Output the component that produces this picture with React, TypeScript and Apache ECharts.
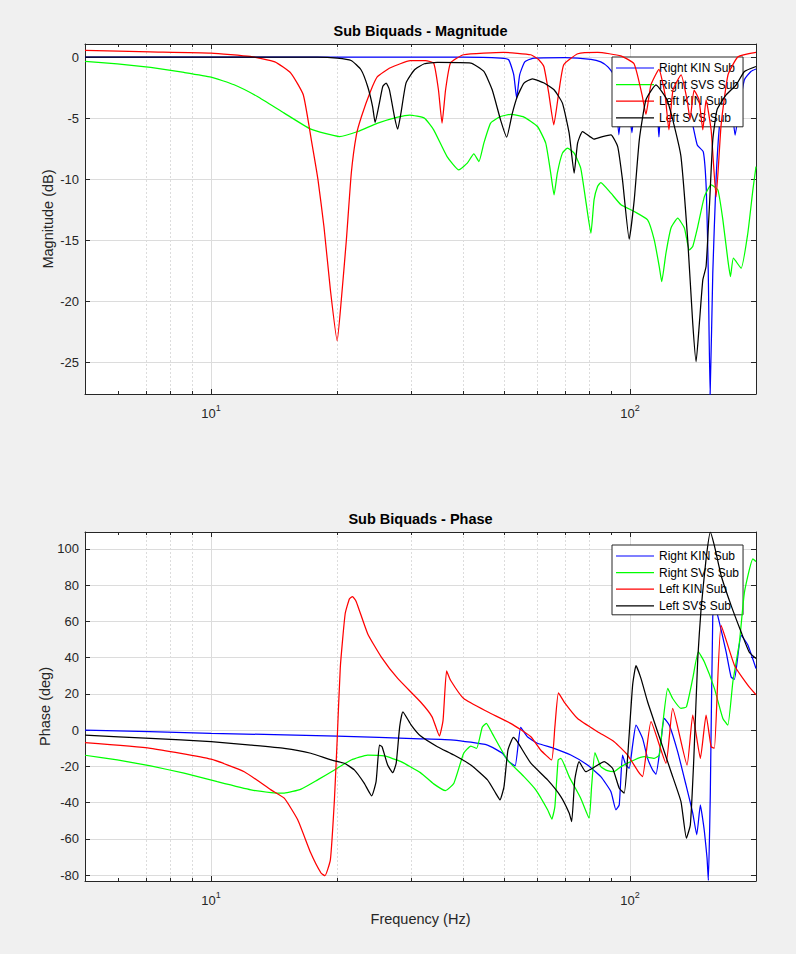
import React, { useEffect, useRef } from 'react';
import * as echarts from 'echarts';

// ---------- data (frequency in Hz, value) ----------
const seriesNames = ['Right KIN Sub', 'Right SVS Sub', 'Left KIN Sub', 'Left SVS Sub'];
const seriesColors = ['#0000FF', '#00FF00', '#FF0000', '#000000'];
const freqRange = [5, 200];
const magRange = [-27.6, 1.07];
const phaseRange = [-83.3, 109.3];
const magStep = 5;
const phaseStep = 20;
const majorFreqTicks = [10, 100];
const minorFreqTicks = [6, 7, 8, 9, 20, 30, 40, 50, 60, 70, 80, 90];

const magRightKin: [number, number][] = [
  [5, 0], [40, 0], [49.1, -0.08], [51.35, -0.22], [52.8, -1.45], [53.65, -3.36], [54.55, -1.45],
  [56.1, -0.39], [58.6, -0.1], [70, -0.05], [80.7, -0.18], [85.2, -0.39], [88.6, -0.8], [91.1, -1.37],
  [92.6, -3.5], [94.1, -6.37], [95.7, -3.9], [97.8, -3.1], [99.4, -3.9], [101.1, -6.2], [102.8, -3.9],
  [107.4, -3.1], [115.4, -3.5], [117.3, -6.54], [119.3, -3.5], [128.8, -3.5], [140, -5.1], [144.8, -7.2],
  [149.7, -7.76], [152.2, -10.9], [153.8, -17.4], [155.4, -27.7], [157.7, -17.7], [160.6, -10.0],
  [163.6, -5.6], [166.8, -3.5], [174.5, -3.9], [178.3, -6.4], [182.2, -4.3], [187.6, -1.86],
  [194.5, -1.18], [200, -0.98],
];
const magRightSvs: [number, number][] = [
  [5, -0.36], [5.97, -0.55], [7.17, -0.85], [8.62, -1.26], [10, -1.64], [11.35, -2.27], [12.9, -3.23],
  [14.95, -4.59], [17.3, -5.9], [20.25, -6.51], [22.4, -6.1], [25, -5.41], [27.9, -4.92], [29.8, -4.75],
  [32.3, -5.0], [34.0, -5.96], [36.6, -8.15], [39.05, -9.24], [40.9, -8.69], [42.4, -7.93], [43.6, -8.56],
  [44.8, -7.05], [46.5, -5.41], [49.1, -4.87], [51.9, -4.7], [55.85, -4.92], [60.15, -5.69], [62.95, -7.05],
  [64.7, -9.5], [65.9, -11.29], [67.1, -9.5], [69.0, -7.87], [70.95, -7.46], [73.6, -7.87], [76.3, -9.1],
  [78.4, -11.7], [80.7, -14.43], [82.1, -11.7], [83.7, -10.6], [85.2, -10.28], [90.1, -11.15],
  [95.2, -12.1], [102.4, -12.65], [110.2, -13.34], [114.3, -14.98], [117.5, -17.16], [119.1, -18.4],
  [121.9, -16.07], [125.35, -14.0], [130.05, -13.2], [134.9, -14.0], [138.6, -15.8], [141.25, -15.52],
  [145.2, -13.89], [150.6, -11.43], [156.3, -10.47], [162.2, -10.88], [166.7, -13.34], [171.3, -16.6],
  [173.8, -17.98], [176.6, -16.48], [184.3, -17.3], [191.2, -14.43], [196.6, -10.88], [200, -8.97],
];
const magLeftKin: [number, number][] = [
  [5, 0.54], [7.15, 0.43], [10, 0.33], [12.4, 0.05], [14.2, -0.39], [15.5, -1.31], [16.6, -3.09],
  [17.35, -6.78], [18.0, -10.06], [18.6, -13.9], [19.27, -19.07], [20.0, -23.25], [20.46, -19.9],
  [21.04, -14.97], [21.62, -9.48], [22.23, -6.37], [22.85, -4.89], [24.0, -2.84], [24.95, -1.61],
  [26.8, -0.88], [29.9, -0.3], [32.5, -0.3], [34.0, -0.49], [34.9, -2.68], [35.6, -5.41], [36.3, -2.68],
  [37.3, -0.49], [40.1, 0.19], [50.0, 0.38], [58.0, 0.19], [60.6, -0.22], [62.3, -0.77], [64.0, -2.95],
  [65.8, -5.55], [67.6, -2.95], [69.5, -0.63], [75.1, 0.27], [83.8, 0.38], [95.1, 0.1], [102.3, -0.55],
  [106.9, -3.1], [109.2, -4.7], [112.2, -2.3], [117.3, -1.0], [121.3, -3.1], [123.9, -5.96], [126.7, -2.7],
  [132.5, -1.45], [136.9, -3.5], [139.2, -5.1], [142.3, -2.7], [146.2, -3.5], [149.3, -5.96], [152.0, -3.5],
  [156.3, -6.0], [160.6, -11.45], [165.1, -5.55], [171.5, -1.45], [181.2, 0.02], [200, 0.38],
];
const magLeftSvs: [number, number][] = [
  [5, 0], [17.93, 0], [20.0, -0.08], [21.6, -0.28], [22.8, -1.04], [23.65, -2.41], [24.3, -4.05],
  [24.64, -5.36], [25.23, -3.75], [25.7, -2.41], [26.18, -2.13], [26.66, -2.68], [27.4, -4.87],
  [27.9, -5.9], [28.4, -4.59], [29.2, -2.13], [30.6, -1.04], [32.3, -0.55], [34.7, -0.44], [41.7, -0.49],
  [44.8, -1.18], [46.9, -2.68], [49.1, -5.14], [50.8, -6.56], [52.4, -4.59], [53.85, -3.23], [55.85, -2.13],
  [58.5, -1.78], [62.4, -2.13], [65.9, -2.68], [69.0, -3.77], [71.6, -6.23], [73.6, -9.51], [75.0, -7.05],
  [77.05, -6.1], [82.1, -6.72], [86.05, -6.51], [90.1, -6.37], [93.5, -7.33], [96.0, -10.06], [99.6, -14.92],
  [102.4, -11.7], [105.3, -6.78], [109.2, -3.5], [115.4, -2.27], [122.6, -3.5], [127.6, -5.63],
  [132.4, -8.15], [137.4, -14.98], [141.25, -21.8], [143.9, -24.95], [146.5, -21.8], [149.3, -18.25],
  [152.0, -17.16], [154.8, -12.25], [157.7, -6.78], [161.5, -4.3], [169.7, -3.1], [179.4, -2.27],
  [187.7, -1.18], [200, -0.77],
];

const phaseRightKin: [number, number][] = [
  [5, 0], [10, -1.8], [20, -3.3], [31.6, -4.8], [38.0, -5.5], [45.7, -8.3], [49.6, -12.8], [51.4, -17.4],
  [53.2, -19.8], [54.85, 1.5], [56.9, -3.7], [60.15, -7.3], [65.9, -10.1], [72.25, -13.8], [79.2, -19.3],
  [85.2, -25.7], [90.1, -34], [92.6, -44], [94.3, -41.3], [96.0, -13.8], [97.8, -19.3], [99.6, -21.1],
  [101.5, -8.3], [103.4, 2.7], [107.2, -4.6], [110.2, -15.6], [113.3, -22], [115.4, -24.4], [118.2, -9.2],
  [120.8, 6.4], [124.2, 2.7], [130.0, -11.9], [136.1, -30.3], [141.25, -45.8], [144.4, -57.8],
  [147.3, -41.3], [148.7, -46.8], [150.6, -56], [152.8, -70.6], [153.9, -83], [155.6, -34], [157.7, 63],
  [159.7, 68], [163.3, 60], [169.7, 43.1], [174.4, 29.3], [177.6, 28], [184.3, 52.3], [191.2, 47], [200, 34],
];
const phaseRightSvs: [number, number][] = [
  [5, -13.9], [5.97, -16.5], [7.17, -19.8], [8.62, -23.8], [10.35, -28.5], [12.45, -33], [13.9, -34.5],
  [14.95, -34.8], [16.4, -32.6], [17.96, -27.5], [19.7, -22], [21.6, -16.5], [23.65, -13.8], [25.9, -14.3],
  [28.4, -17.4], [31.6, -23.5], [34.0, -29.7], [36.3, -33.4], [38.0, -29.3], [40.1, -12.8], [41.7, -8.8],
  [43.05, -10.1], [44.4, 1.5], [45.4, 3.7], [46.9, -1.8], [51.0, -16.5], [55.85, -25.7], [59.6, -33],
  [63.6, -44], [65.1, -49.1], [66.2, -42.2], [67.4, -16.5], [68.4, -15.6], [71.6, -25.7], [76.3, -37.6],
  [79.9, -48.6], [81.0, -31.2], [82.5, -12.5], [85.2, -20.2], [88.4, -22.4], [91.7, -22.9], [95.2, -20.2],
  [102.4, -16.5], [108.2, -14.7], [114.3, -15.6], [117.5, -13.8], [119.7, 2.7], [123.1, 23], [126.5, 17.4],
  [132.4, 12], [136.4, 12.8], [141.25, 28.5], [145.7, 43.1], [150.6, 37.6], [159.1, 23], [166.7, 6.4],
  [171.3, 2.7], [176.1, 26.6], [182.6, 48.6], [187.7, 76.1], [196.6, 94.5], [200, 93],
];
const phaseLeftKin: [number, number][] = [
  [5, -7.0], [7.17, -10.1], [10, -16.1], [12.0, -23], [13.9, -33], [14.95, -37.6], [16.1, -49.5],
  [17.3, -67.9], [18.3, -78.9], [18.7, -80.4], [19.27, -71.5], [19.7, -38.5], [20.0, -5.5], [20.35, 34.8],
  [20.9, 64.2], [21.4, 72.5], [21.75, 73.7], [22.2, 71], [23.65, 53.2], [25.5, 40.3], [27.9, 28.5],
  [31.6, 15.6], [33.7, 7.3], [35.1, -3.3], [35.8, 5.5], [36.5, 32.6], [37.3, 27.5], [40.1, 17.4],
  [45.7, 10.1], [51.9, 3.7], [58.0, -3.7], [61.2, -11], [65.0, -16.5], [66.2, 1.8], [67.5, 20.5],
  [69.6, 15.6], [75.0, 6.4], [83.7, -0.9], [91.7, -6.4], [98.7, -13.8], [105.3, -23.8], [107.2, -25.7],
  [112.3, 4.6], [121.9, -18.3], [126.5, 12], [136.9, -19.3], [141.25, 8.3], [147.3, -15.6], [152.0, 8.3],
  [156.3, -9.2], [159.1, -10], [165.1, 57.8], [177.6, 35.8], [191.2, 24.8], [200, 19.5],
];
const phaseLeftSvs: [number, number][] = [
  [5, -2.8], [7.17, -4.6], [10, -6.4], [12.45, -8.3], [14.95, -10.1], [17.3, -12.8], [19.35, -16.5],
  [20.8, -18.3], [21.98, -22], [23.2, -29.3], [24.18, -36.3], [24.77, -28.5], [25.23, -8.3], [25.6, -9.2],
  [26.4, -19.3], [27.15, -23.5], [27.67, -18.3], [28.2, 1.8], [28.7, 10.1], [30.05, 2.7], [31.6, -3.2],
  [34.7, -9.2], [38.0, -13.8], [41.7, -19.3], [45.7, -27.5], [47.8, -34.8], [48.95, -38.5], [50.05, -31.2],
  [51.15, -11], [52.7, -4], [53.85, -6.4], [58.0, -18.3], [63.6, -27.5], [68.4, -36.7], [71.6, -45.8],
  [72.6, -50.5], [73.85, -27.5], [75.6, -17.4], [78.45, -23], [81.4, -21.1], [86.8, -17.4], [90.9, -21.1],
  [94.3, -32.1], [96.9, -34.8], [98.7, -15.6], [101.5, 24.8], [103.4, 35.5], [106.25, 28.5], [110.2, 15.6],
  [114.3, 4.6], [118.6, -6.4], [125.35, -23], [132.4, -39.5], [136.4, -59.6], [139.4, -52.3],
  [142.1, -15.6], [145.2, 39.5], [147.9, 67], [152.0, 94.5], [155.6, 109.3], [159.1, 101.8], [165.1, 85.3],
  [174.4, 68.8], [184.3, 54.1], [192.6, 43.1], [200, 39.5],
];

const magData = [magRightKin, magRightSvs, magLeftKin, magLeftSvs];
const phaseData = [phaseRightKin, phaseRightSvs, phaseLeftKin, phaseLeftSvs];

// ---------- styling ----------
const FONT = '"Liberation Sans", Arial, Helvetica, sans-serif';
const AX = '#262626';
const GRIDC = '#DCDCDC';
const LINE_W = 1.25;

const isMultiple = (v: number, step: number) => Math.abs(v / step - Math.round(v / step)) < 1e-6;

function xAxes(gridIndex: number, name: string) {
  const base = { gridIndex, type: 'log', logBase: 10, min: freqRange[0], max: freqRange[1] };
  const line = { show: true, onZero: false, lineStyle: { color: AX, width: 1 } };
  return [
    {
      ...base,
      position: 'bottom',
      axisLine: line,
      axisTick: { show: true, inside: true, length: 5, lineStyle: { color: AX } },
      axisLabel: {
        margin: 9,
        formatter: (v: number) =>
          majorFreqTicks.some((t) => Math.abs(t - v) < 1e-6) ? `{b|10}{s|${Math.round(Math.log10(v))}}` : '',
        rich: {
          b: { fontSize: 13, fontFamily: FONT, color: AX, lineHeight: 17, verticalAlign: 'bottom' },
          s: { fontSize: 9, fontFamily: FONT, color: AX, lineHeight: 10, verticalAlign: 'top' },
        },
      },
      splitLine: { show: true, showMinLine: false, showMaxLine: false, lineStyle: { color: GRIDC, width: 1 } },
      name,
      nameLocation: 'middle',
      nameGap: 30,
      nameMoveOverlap: false,
      nameTextStyle: { fontSize: 14.5, color: AX, fontFamily: FONT },
    },
    {
      ...base,
      position: 'top',
      axisLine: line,
      axisTick: { show: true, inside: true, length: 5, lineStyle: { color: AX } },
      axisLabel: { show: false },
      splitLine: { show: false },
    },
    {
      ...base,
      position: 'bottom',
      axisLine: { show: false, onZero: false },
      axisTick: { show: true, inside: true, length: 3, customValues: minorFreqTicks, lineStyle: { color: AX } },
      axisLabel: { show: false },
      splitLine: { show: true, showMinLine: false, showMaxLine: false, lineStyle: { color: GRIDC, width: 1, type: [2, 2] } },
    },
    {
      ...base,
      position: 'top',
      axisLine: { show: false, onZero: false },
      axisTick: { show: true, inside: true, length: 3, customValues: minorFreqTicks, lineStyle: { color: AX } },
      axisLabel: { show: false },
      splitLine: { show: false },
    },
  ];
}

function yAxes(gridIndex: number, range: number[], step: number, split: number, name: string, nameGap: number) {
  const base = {
    gridIndex, type: 'value', min: range[0], max: range[1], minInterval: step, maxInterval: step, splitNumber: split,
  };
  return [
    {
      ...base,
      position: 'left',
      axisLine: { show: true, onZero: false, lineStyle: { color: AX, width: 1 } },
      axisTick: { show: true, inside: true, length: 5, lineStyle: { color: AX } },
      axisLabel: {
        margin: 6, color: AX, fontSize: 13, fontFamily: FONT,
        formatter: (v: number) => (isMultiple(v, step) ? String(Math.round(v) || 0) : ''),
      },
      splitLine: { show: true, showMinLine: false, showMaxLine: false, lineStyle: { color: GRIDC, width: 1 } },
      name,
      nameLocation: 'middle',
      nameRotate: 90,
      nameGap,
      nameMoveOverlap: false,
      nameTextStyle: { fontSize: 14.5, color: AX, fontFamily: FONT },
    },
    {
      ...base,
      position: 'right',
      axisLine: { show: true, onZero: false, lineStyle: { color: AX, width: 1 } },
      axisTick: { show: true, inside: true, length: 5, lineStyle: { color: AX } },
      axisLabel: { show: false },
      splitLine: { show: false },
    },
  ];
}

function legend(top: number) {
  return {
    data: seriesNames.map((n) => ({ name: n, icon: 'rect' })),
    orient: 'vertical',
    left: 612,
    top,
    itemWidth: 38,
    itemHeight: 1.2,
    itemGap: 2.6,
    padding: [4, 4, 2, 4],
    backgroundColor: '#ffffff',
    borderColor: AX,
    borderWidth: 1,
    borderRadius: 0,
    selectedMode: false,
    textStyle: { fontSize: 12, color: '#000', fontFamily: FONT, lineHeight: 14 },
  };
}

function lineSeries(data: [number, number][][], xAxisIndex: number, yAxisIndex: number) {
  return data.map((d, i) => ({
    name: seriesNames[i],
    type: 'line',
    xAxisIndex,
    yAxisIndex,
    data: d,
    symbol: 'none',
    showSymbol: false,
    smooth: 0.15,
    clip: true,
    silent: true,
    z: 3 + i,
    lineStyle: { color: seriesColors[i], width: LINE_W },
    itemStyle: { color: seriesColors[i] },
    emphasis: { disabled: true },
  }));
}

export default function App() {
  const ref = useRef<HTMLDivElement>(null);
  useEffect(() => {
    if (!ref.current) return;
    const chart = echarts.init(ref.current, undefined, { renderer: 'svg' });
    chart.setOption({
      animation: false,
      backgroundColor: '#F0F0F0',
      textStyle: { fontFamily: FONT },
      grid: [
        { left: 85, top: 44, width: 671, height: 350, show: true, backgroundColor: '#ffffff', borderWidth: 0 },
        { left: 85, top: 532, width: 671, height: 349, show: true, backgroundColor: '#ffffff', borderWidth: 0 },
      ],
      xAxis: [...xAxes(0, ''), ...xAxes(1, 'Frequency (Hz)')],
      yAxis: [
        ...yAxes(0, magRange, magStep, 6, 'Magnitude (dB)', 30),
        ...yAxes(1, phaseRange, phaseStep, 10, 'Phase (deg)', 33),
      ],
      legend: [legend(57), legend(545)],
      graphic: [
        {
          type: 'text', x: 420.5, y: 31, silent: true,
          style: { text: 'Sub Biquads - Magnitude', align: 'center', verticalAlign: 'middle', fill: '#000', font: `bold 14.5px ${FONT}` },
        },
        {
          type: 'text', x: 420.5, y: 519, silent: true,
          style: { text: 'Sub Biquads - Phase', align: 'center', verticalAlign: 'middle', fill: '#000', font: `bold 14.5px ${FONT}` },
        },
      ],
      series: [...lineSeries(magData, 0, 0), ...lineSeries(phaseData, 4, 2)],
    });
    return () => chart.dispose();
  }, []);
  return <div ref={ref} style={{ position: 'fixed', left: 0, top: 0, width: 796, height: 954 }} />;
}
